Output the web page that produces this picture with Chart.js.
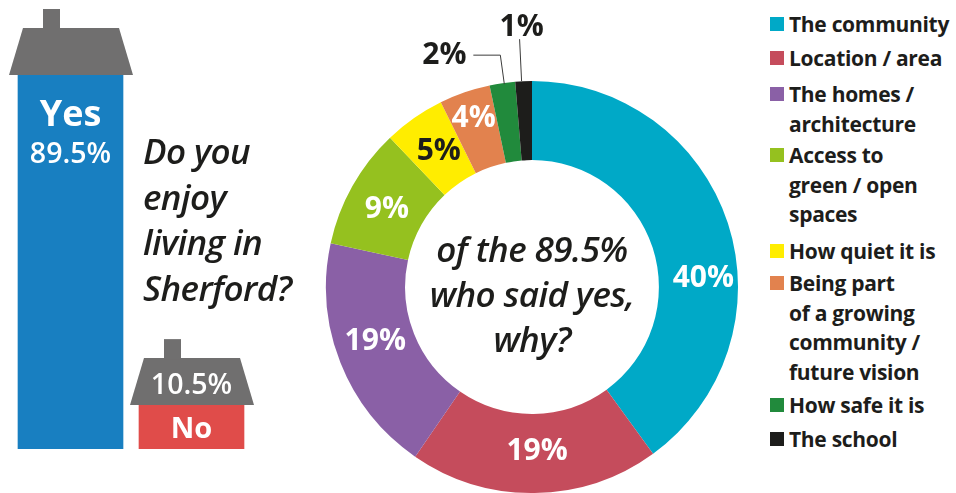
<!DOCTYPE html>
<html>
<head>
<meta charset="utf-8">
<title>Do you enjoy living in Sherford?</title>
<script src="https://cdn.jsdelivr.net/npm/chart.js@4/dist/chart.umd.min.js"></script>
<style>
    html, body { margin: 0; padding: 0; background: #fff; }
    body { position: relative; width: 956px; height: 493px; overflow: hidden; font-family: "Open Sans", sans-serif; color: #1d1d1b; }
    canvas { position: absolute; }
    #bar-wrap { position: absolute; left: 0; top: 0; width: 310px; height: 493px; }
    #donut-wrap { position: absolute; left: 320px; top: 0; width: 424px; height: 493px; }
    .question { position: absolute; font-style: italic; font-weight: 600; font-size: 35px; line-height: 45.5px; letter-spacing: -0.6px; }
    #ask { left: 143px; top: 128px; }
    #why { left: 402px; top: 226px; width: 260px; text-align: center; line-height: 45px; }
    .key { position: absolute; left: 770px; }
    .key i { position: absolute; left: 0; top: 0; width: 14px; height: 14px; }
    .key div { position: absolute; left: 19px; top: -7px; white-space: nowrap; font-weight: 700; font-size: 21px; line-height: 29.5px; letter-spacing: -0.3px; }
</style>
</head>
<body>
<div id="bar-wrap"><canvas id="bar-canvas"></canvas></div>
<div id="donut-wrap"><canvas id="donut-canvas"></canvas></div>
<div class="question" id="ask">Do you<br>enjoy<br>living in<br>Sherford?</div>
<div class="question" id="why">of the 89.5%<br>who said yes,<br>why?</div>
<div id="legend"></div>
<script>
    const ANSWERS = ['Yes', 'No'];
    const ANSWER_VALUES = [89.5, 10.5];
    const ANSWER_COLORS = ['#187fc1', '#e04c4a'];

    const REASONS = ['The community', 'Location / area', 'The homes / architecture', 'Access to green / open spaces',
        'How quiet it is', 'Being part of a growing community / future vision', 'How safe it is', 'The school'];
    // arc sizes as drawn in the picture, these differ a little from the printed percentages
    const REASON_ARCS = [40, 19.6, 18.8, 9.5, 4.8, 4, 2, 1.3];
    const REASON_LABELS = ['40%', '19%', '19%', '9%', '5%', '4%', '2%', '1%'];
    const REASON_COLORS = ['#00a9c7', '#c54c5c', '#8a60a6', '#95c11f', '#ffed00', '#e2824e', '#218a3c', '#1d1d1b'];

    // legend line breaks and top edge of each swatch
    const LEGEND_LINES = [['The community'], ['Location / area'], ['The homes /', 'architecture'],
        ['Access to', 'green / open', 'spaces'], ['How quiet it is'],
        ['Being part', 'of a growing', 'community /', 'future vision'], ['How safe it is'], ['The school']];
    const LEGEND_TOPS = [17, 51, 87, 148, 244, 276, 398, 432];

    const GREY = '#706f6f';
    const INK = '#1d1d1b';
    const FONT = '"Open Sans", sans-serif';

    // nudges from the arc centre for the printed percentages
    const LABEL_NUDGE = [[13, 43], [3, -2], [-2, -7], [0, 4], [2, 1], [-4, -11]];
    const LABEL_COLORS = ['#fff', '#fff', '#fff', '#fff', INK, '#fff', INK, INK];

    function drawRoof(ctx, bar) {
        const left = bar.x - bar.width / 2;
        const top = bar.y;
        ctx.fillStyle = GREY;
        ctx.beginPath();
        ctx.moveTo(left - 9, top);
        ctx.lineTo(left + 5, top - 47);
        ctx.lineTo(left + 101, top - 47);
        ctx.lineTo(left + 115, top);
        ctx.closePath();
        ctx.fill();
        ctx.fillRect(left + 25, top - 66, 17, 20);
    }

    const housePlugin = {
        id: 'house',
        afterDatasetsDraw(chart) {
            const ctx = chart.ctx;
            const bars = chart.getDatasetMeta(0).data;
            ctx.save();
            bars.forEach(b => drawRoof(ctx, b));
            ctx.textAlign = 'center';
            ctx.textBaseline = 'alphabetic';
            ctx.fillStyle = '#fff';
            ctx.font = '700 36px ' + FONT;
            ctx.fillText(ANSWERS[0], bars[0].x, bars[0].y + 51);
            ctx.font = '600 28.5px ' + FONT;
            ctx.fillText(ANSWER_VALUES[0] + '%', bars[0].x, bars[0].y + 88);
            ctx.fillText(ANSWER_VALUES[1] + '%', bars[1].x, bars[1].y - 11);
            ctx.font = '700 29px ' + FONT;
            ctx.fillText(ANSWERS[1], bars[1].x, bars[1].y + 33);
            ctx.restore();
        }
    };

    const sliceLabelPlugin = {
        id: 'sliceLabels',
        afterDatasetsDraw(chart) {
            const ctx = chart.ctx;
            const arcs = chart.getDatasetMeta(0).data;
            ctx.save();
            ctx.font = '700 30px ' + FONT;
            ctx.textAlign = 'center';
            ctx.textBaseline = 'middle';
            LABEL_NUDGE.forEach((n, i) => {
                const p = arcs[i].tooltipPosition();
                ctx.fillStyle = LABEL_COLORS[i];
                ctx.fillText(REASON_LABELS[i], p.x + n[0], p.y + n[1]);
            });

            // the two thin slices get leader lines
            const edge = i => {
                const a = arcs[i];
                const mid = (a.startAngle + a.endAngle) / 2;
                return { x: a.x + Math.cos(mid) * a.outerRadius, y: a.y + Math.sin(mid) * a.outerRadius };
            };
            const two = edge(6);
            const one = edge(7);
            ctx.strokeStyle = '#3c3c3b';
            ctx.lineWidth = 1;
            ctx.beginPath();
            ctx.moveTo(two.x + 2, two.y + 1);
            ctx.lineTo(two.x - 2, two.y - 28);
            ctx.lineTo(two.x - 29, two.y - 28);
            ctx.moveTo(one.x - 2, one.y);
            ctx.lineTo(one.x - 4, one.y - 42);
            ctx.stroke();
            ctx.fillStyle = INK;
            ctx.fillText(REASON_LABELS[6], two.x - 58, two.y - 28);
            ctx.fillText(REASON_LABELS[7], one.x - 2, one.y - 54);
            ctx.restore();
        }
    };

    new Chart(document.getElementById('bar-canvas'), {
        type: 'bar',
        data: {
            labels: ANSWERS,
            datasets: [{
                data: ANSWER_VALUES,
                backgroundColor: ANSWER_COLORS,
                borderWidth: 0,
                barThickness: 105,
            }],
        },
        options: {
            responsive: true,
            maintainAspectRatio: false,
            animation: false,
            layout: { padding: { left: 10, right: 58, top: 75, bottom: 44 } },
            plugins: { legend: { display: false }, tooltip: { enabled: false } },
            scales: {
                x: { display: false, offset: true, grid: { display: false } },
                y: { display: false, min: 0, max: 89.5, grid: { display: false } },
            },
        },
        plugins: [housePlugin],
    });

    new Chart(document.getElementById('donut-canvas'), {
        type: 'doughnut',
        data: {
            labels: REASONS,
            datasets: [{
                data: REASON_ARCS,
                backgroundColor: REASON_COLORS,
                borderWidth: 0,
            }],
        },
        options: {
            responsive: true,
            maintainAspectRatio: false,
            animation: false,
            cutout: '61.6%',
            layout: { padding: { top: 81 } },
            plugins: { legend: { display: false }, tooltip: { enabled: false } },
        },
        plugins: [sliceLabelPlugin],
    });

    const legend = document.getElementById('legend');
    LEGEND_LINES.forEach((lines, i) => {
        const key = document.createElement('div');
        key.className = 'key';
        key.style.top = LEGEND_TOPS[i] + 'px';
        const swatch = document.createElement('i');
        swatch.style.background = REASON_COLORS[i];
        const text = document.createElement('div');
        text.innerHTML = lines.join('<br>');
        key.append(swatch, text);
        legend.appendChild(key);
    });
</script>
</body>
</html>
